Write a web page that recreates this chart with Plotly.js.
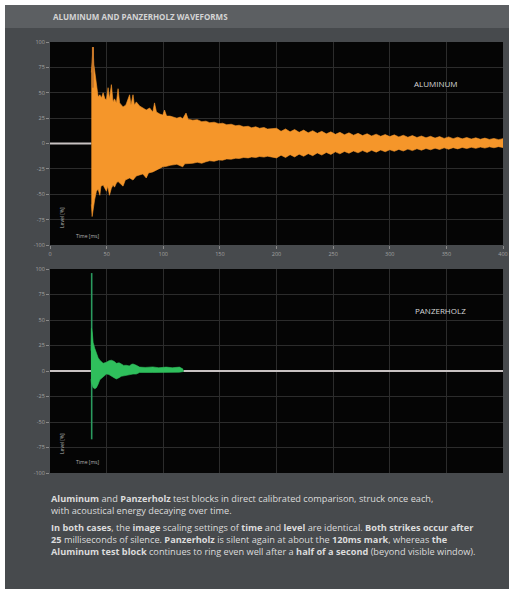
<!DOCTYPE html>
<html>
<head>
<meta charset="utf-8">
<script src="https://cdn.plot.ly/plotly-3.0.1.min.js"></script>
<style>html,body{margin:0;padding:0;background:#fff;}#chart{width:509px;height:589px;}</style>
</head>
<body>
<div id="chart"></div>
<script>
// ---------- DATA ----------
var xTickVals = [0, 50, 100, 150, 200, 250, 300, 350, 400];
var xTickText = ["0", "50", "100", "150", "200", "250", "300", "350", "400"];
var yTickVals = [100, 75, 50, 25, 0, -25, -50, -75, -100];
var yTickText = ["100", "75", "50", "25", "0", "-25", "-50", "-75", "-100"];

// Aluminum waveform envelope: upper edge (time ms, level %)
var aluUpperT = [36.5,37.2,38.0,38.7,39.5,40.3,41.0,42.0,42.5,44.0,45.5,46.9,48.5,49.8,51.3,52.5,54.2,55.7,57.0,58.6,60.1,61.5,64.5,67.0,70.3,71.5,73.3,74.5,76.2,79.1,82.0,85.0,88.0,90.8,92.3,94.0,97.0,99.6,101.1,103.0,106.0,108.4,112.0,115.0,117.2,120.1,122.0,126.0,130.0,134.0,137.7,141.0,145.0,149.0,152.4,156.0,160.0,164.0,167.0,171.0,175.0,178.0,181.7,185.0,189.0,192.0,196.3,
  200,204,208,212,216,220,224,228,232,236,240,244,248,252,256,260,264,268,272,276,280,284,288,292,296,300,304,308,312,316,320,324,328,332,336,340,344,348,352,356,360,364,368,372,376,380,384,388,392,396,400];
var aluUpperV = [70,88,95,78,72,64,62,50,46,48,45,50,44,43,55,44,58,41,44,40,54,40,36,38,48,38,48,38,41,37,35,33,35,31,40,31,29,28,33,27,27,26,25,26,24.5,30,24,23,23.5,21.5,22,20.5,21,19.5,20,18.5,19,17.5,18,16.5,17,15.5,16.5,15,15.8,14.2,15,
  15.0,12.0,14.4,11.5,13.8,11.0,13.2,10.5,12.6,10.0,12.0,9.5,11.5,9.0,11.0,8.6,10.5,8.2,10.0,7.8,9.6,7.4,9.2,7.1,8.8,6.8,8.5,6.5,8.1,6.2,7.8,5.9,7.4,5.6,7.1,5.3,6.8,5.0,6.5,4.8,6.2,4.6,5.9,4.4,5.6,4.2,5.3,4.0,5.0,3.8,4.8];
// Aluminum waveform envelope: lower edge
var aluLowerT = [36.5,37.2,38.0,38.7,39.5,41.0,42.5,44.0,45.0,46.9,48.5,49.8,51.0,52.5,54.2,55.7,57.0,58.6,60.1,62.5,64.5,66.5,70.3,73.3,76.2,79.1,82.0,85.0,87.0,90.8,93.0,96.0,99.6,103.0,106.0,108.4,112.0,117.2,119.0,126.0,130.0,134.0,137.7,141.0,145.0,149.0,152.4,156.0,160.0,164.0,167.0,171.0,175.0,178.0,181.7,185.0,189.0,192.0,196.3,
  200,204,208,212,216,220,224,228,232,236,240,244,248,252,256,260,264,268,272,276,280,284,288,292,296,300,304,308,312,316,320,324,328,332,336,340,344,348,352,356,360,364,368,372,376,380,384,388,392,396,400];
var aluLowerV = [-60,-72,-68,-61,-55,-47,-45,-51,-42,-41,-44,-47,-42,-51,-44,-41,-43,-39,-37.5,-40,-42,-36,-34,-36,-32,-31,-30,-34,-29,-28,-27,-25,-23,-22.5,-21.5,-21,-20.5,-23,-20,-19.5,-18.5,-19.5,-18,-17,-17.5,-16.2,-16.5,-15.2,-15.5,-14.5,-14.8,-13.8,-14.2,-13.3,-13.8,-12.8,-13.4,-12.5,-13.2,
  -14.2,-11.5,-13.8,-11.0,-13.2,-10.5,-12.6,-10.0,-12.0,-9.3,-11.4,-8.8,-10.8,-8.2,-10.2,-7.8,-9.6,-7.4,-9.2,-7.0,-8.8,-6.7,-8.5,-6.4,-8.1,-6.1,-7.7,-5.8,-7.4,-5.5,-7.0,-5.2,-6.6,-4.9,-6.2,-4.6,-5.9,-4.3,-5.6,-4.1,-5.3,-3.9,-5.0,-3.7,-4.8,-3.5,-4.5,-3.3,-4.2,-3.1,-4.0];
// Aluminum strike spike and silence
var aluSpikeT = [37.9, 37.9];
var aluSpikeV = [55, 95];
var aluSilenceT = [0, 36.5];
var aluSilenceV = [0, 0];

// Panzerholz waveform envelope
var panUpperT = [36.2,36.6,37.3,38.1,39.6,41.0,42.5,44.0,45.5,46.9,49.8,52.0,54.2,56.5,58.6,61.0,63.0,65.0,67.4,70.0,72.0,73.3,76.2,79.1,84.0,90.8,96.0,102.6,108.0,114.3,117.2,117.8];
var panUpperV = [20,42,38,28,22,17,13,10.6,8.5,7.5,8.5,10,10.6,9.5,7.5,8,6.9,5.5,5.6,5,6.5,6.9,5.6,3.8,3.5,4,3.2,3.8,3.2,3.8,2.1,0.5];
var panLowerT = [36.2,36.6,38.1,39.6,41.0,42.5,44.0,46.9,49.8,52.0,54.2,56.5,58.6,61.0,63.0,67.4,73.3,76.2,79.1,90.8,102.6,114.3,117.8];
var panLowerV = [-8,-11.6,-16.3,-17.5,-16.3,-13,-8.6,-6,-3,-3.5,-4.6,-6.5,-7.8,-6.5,-5.2,-4,-3,-3,-1.5,-1.5,-1.6,-1.2,-0.5];
var panSpikeT = [36.8, 36.8];
var panSpikeV = [-67, 96];
var panSilenceBeforeT = [0, 36.2];
var panSilenceAfterT = [117.8, 400];
var panSilenceV = [0, 0];

// ---------- TEXT ----------
var chartTitle = "ALUMINUM AND PANZERHOLZ WAVEFORMS";
var label1 = "ALUMINUM";
var label2 = "PANZERHOLZ";
var levelLabel = "Level [%]";
var timeLabel = "Time [ms]";
var para1 = "<b>Aluminum</b> and <b>Panzerholz</b> test blocks in direct calibrated comparison, struck once each,<br>with acoustical energy decaying over time.";
var para2 = "<b>In both cases</b>, the <b>image</b> scaling settings of <b>time</b> and <b>level</b> are identical. <b>Both strikes occur after</b><br><b>25</b> milliseconds of silence. <b>Panzerholz</b> is silent again at about the <b>120ms mark</b>, whereas <b>the</b><br><b>Aluminum test block</b> continues to ring even well after a <b>half of a second</b> (beyond visible window).";

// ---------- BUILD ----------
var W = 509, H = 589;
function px(x) { return x / W; }
function py(y) { return 1 - y / H; }

function closedShape(ut, uv, lt, lv) {
  return {
    x: ut.concat(lt.slice().reverse()),
    y: uv.concat(lv.slice().reverse())
  };
}
var alu = closedShape(aluUpperT, aluUpperV, aluLowerT, aluLowerV);
var pan = closedShape(panUpperT, panUpperV, panLowerT, panLowerV);

var orange = "#f5962a";
var green = "#2fbf5c";
var zeroCol = "#c8c2c2";

var traces = [
  {x: aluSilenceT, y: aluSilenceV, xaxis: "x", yaxis: "y", mode: "lines", line: {color: zeroCol, width: 2}, hoverinfo: "skip"},
  {x: alu.x, y: alu.y, xaxis: "x", yaxis: "y", mode: "lines", fill: "toself", fillcolor: orange, line: {color: orange, width: 0.6}, hoverinfo: "skip"},
  {x: aluSpikeT, y: aluSpikeV, xaxis: "x", yaxis: "y", mode: "lines", line: {color: "#c9782a", width: 2}, hoverinfo: "skip"},
  {x: panSilenceBeforeT, y: panSilenceV, xaxis: "x2", yaxis: "y2", mode: "lines", line: {color: zeroCol, width: 2}, hoverinfo: "skip"},
  {x: panSilenceAfterT, y: panSilenceV, xaxis: "x2", yaxis: "y2", mode: "lines", line: {color: zeroCol, width: 2}, hoverinfo: "skip"},
  {x: panSpikeT, y: panSpikeV, xaxis: "x2", yaxis: "y2", mode: "lines", line: {color: "#2a9a5e", width: 1.6}, hoverinfo: "skip"},
  {x: pan.x, y: pan.y, xaxis: "x2", yaxis: "y2", mode: "lines", fill: "toself", fillcolor: green, line: {color: green, width: 0.6}, hoverinfo: "skip"}
];

var tickFont = {family: "Open Sans, sans-serif", size: 5.5, color: "#a3a3a3"};
function xAxis(showLabels, anchor) {
  return {
    domain: [px(50), px(503)], range: [0, 400], anchor: anchor,
    tickvals: xTickVals, ticktext: xTickText, showticklabels: showLabels,
    ticks: showLabels ? "outside" : "", ticklen: 3, tickcolor: "#8a8a8a",
    tickfont: tickFont, showgrid: true, gridcolor: "#2c2c2c", gridwidth: 1,
    zeroline: false, showline: false, automargin: false, fixedrange: true
  };
}
function yAxis(top, bottom, anchor) {
  return {
    domain: [py(bottom), py(top)], range: [-100, 100], anchor: anchor,
    tickvals: yTickVals, ticktext: yTickText,
    ticks: "outside", ticklen: 3, tickcolor: "#8a8a8a",
    tickfont: tickFont, showgrid: true, gridcolor: "#2c2c2c", gridwidth: 1,
    zeroline: false, showline: false, automargin: false, fixedrange: true
  };
}

var txt = function (s, x, y, size, color, extra) {
  var a = {text: s, xref: "paper", yref: "paper", x: px(x), y: py(y), showarrow: false,
    font: {family: "Open Sans, sans-serif", size: size, color: color}, xanchor: "left", yanchor: "middle"};
  for (var k in extra) a[k] = extra[k];
  return a;
};

var layout = {
  width: W, height: H,
  margin: {l: 0, r: 0, t: 0, b: 0},
  paper_bgcolor: "#474a4d",
  plot_bgcolor: "#050505",
  showlegend: false,
  xaxis: xAxis(true, "y"),
  yaxis: yAxis(42, 245, "x"),
  xaxis2: xAxis(false, "y2"),
  yaxis2: yAxis(269, 473, "x2"),
  shapes: [
    {type: "rect", xref: "paper", yref: "paper", x0: 0, x1: 1, y0: py(5), y1: 1, fillcolor: "#ffffff", line: {width: 0}, layer: "below"},
    {type: "rect", xref: "paper", yref: "paper", x0: 0, x1: px(5), y0: 0, y1: 1, fillcolor: "#ffffff", line: {width: 0}, layer: "below"},
    {type: "rect", xref: "paper", yref: "paper", x0: px(5), x1: 1, y0: py(28), y1: py(5), fillcolor: "#5c5f62", line: {width: 0}, layer: "below"}
  ],
  annotations: [
    txt("<b>" + chartTitle + "</b>", 51, 16.5, 8, "#d4d4d4"),
    txt(label1, 436, 83, 8, "#d8d8d8", {xanchor: "center"}),
    txt(label2, 440, 310, 8, "#d8d8d8", {xanchor: "center"}),
    txt(levelLabel, 62, 218, 5, "#b5b5b5", {xanchor: "center", textangle: -90}),
    txt(timeLabel, 74, 236, 5, "#b5b5b5"),
    txt(levelLabel, 62, 444, 5, "#b5b5b5", {xanchor: "center", textangle: -90}),
    txt(timeLabel, 74, 462, 5, "#b5b5b5"),
    txt(para1, 49, 490, 9.2, "#dcdcdc", {yanchor: "top", align: "left"}),
    txt(para2, 49, 519, 9.2, "#dcdcdc", {yanchor: "top", align: "left"})
  ]
};

Plotly.newPlot("chart", traces, layout, {displayModeBar: false, staticPlot: true});
</script>
</body>
</html>
